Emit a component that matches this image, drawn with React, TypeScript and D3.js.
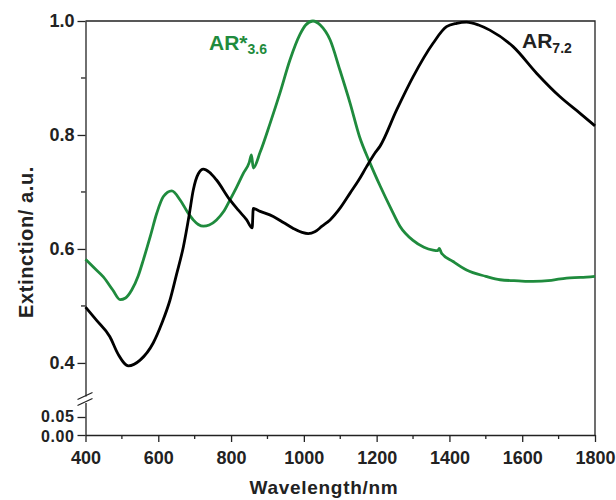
import React, { useEffect, useRef } from "react";
import * as d3 from "d3";

// AR7.2 (black)
const ar72Wavelength = [400, 430, 467, 490, 518, 550, 586, 610, 632, 650, 669, 685, 696, 710, 724, 740, 760, 797, 820, 843, 858, 861, 880, 916, 945, 971, 995, 1012, 1030, 1050, 1072, 1100, 1127, 1150, 1172, 1195, 1209, 1255, 1300, 1355, 1392, 1420, 1447, 1480, 1511, 1575, 1640, 1704, 1759, 1800];
const ar72Extinction = [0.498, 0.475, 0.446, 0.415, 0.395, 0.405, 0.435, 0.47, 0.51, 0.555, 0.604, 0.66, 0.703, 0.732, 0.74, 0.735, 0.721, 0.686, 0.668, 0.651, 0.637, 0.671, 0.666, 0.657, 0.646, 0.636, 0.629, 0.627, 0.63, 0.64, 0.651, 0.672, 0.698, 0.72, 0.744, 0.768, 0.78, 0.844, 0.902, 0.961, 0.99, 0.996, 0.998, 0.993, 0.984, 0.955, 0.908, 0.867, 0.838, 0.816];

// AR*3.6 (green)
const ar36Wavelength = [400, 425, 449, 475, 495, 510, 527, 545, 559, 578, 596, 614, 637, 660, 680, 696, 710, 724, 740, 760, 780, 797, 815, 834, 850, 856, 861, 880, 907, 934, 962, 989, 1005, 1025, 1045, 1072, 1099, 1127, 1153, 1181, 1210, 1240, 1264, 1300, 1330, 1355, 1368, 1372, 1378, 1410, 1447, 1500, 1539, 1590, 1630, 1680, 1722, 1760, 1800];
const ar36Extinction = [0.582, 0.566, 0.551, 0.528, 0.511, 0.514, 0.528, 0.553, 0.581, 0.622, 0.663, 0.692, 0.702, 0.686, 0.665, 0.651, 0.643, 0.64, 0.642, 0.651, 0.666, 0.686, 0.708, 0.733, 0.752, 0.765, 0.742, 0.77, 0.82, 0.873, 0.932, 0.976, 0.993, 1.0, 0.993, 0.967, 0.914, 0.856, 0.797, 0.752, 0.71, 0.67, 0.64, 0.615, 0.603, 0.598, 0.597, 0.601, 0.593, 0.578, 0.563, 0.552, 0.546, 0.544, 0.543, 0.545, 0.549, 0.55, 0.552];

const xTicks = [400, 600, 800, 1000, 1200, 1400, 1600, 1800];
const xMinorTicks = [500, 700, 900, 1100, 1300, 1500, 1700];
const yTopTicks = [0.4, 0.6, 0.8, 1.0];
const yTopMinor = [0.5, 0.7, 0.9];
const yBottomTicks = [0, 0.05];

const GREEN = "#1f8b3d";
const TEXT = "#222";
const FONT = "'Liberation Sans', Arial, sans-serif";

const App = () => {
  const ref = useRef<SVGSVGElement>(null);

  useEffect(() => {
    const svg = d3.select(ref.current);
    svg.selectAll("*").remove();

    const left = 85.5;
    const right = 595;
    const top = 21;
    const bottom = 435;

    const x = d3.scaleLinear().domain([400, 1800]).range([left, right]);
    // broken y axis: upper part and a small lower part
    const yTop = d3.scaleLinear().domain([0.342, 1.0]).range([396, top]);
    const yBot = d3.scaleLinear().domain([0, 0.09]).range([bottom, 402.6]);

    // frame: top and right
    svg.append("path")
      .attr("d", `M${left},${top}H${right}V${bottom}`)
      .attr("fill", "none")
      .attr("stroke", "#222")
      .attr("stroke-width", 1.3);

    // x axis
    const xg = svg.append("g").attr("transform", `translate(0,${bottom})`);
    xg.call(d3.axisBottom(x).tickValues(xTicks).tickSize(7).tickSizeOuter(0).tickFormat(d3.format("d")));
    xg.append("g")
      .selectAll("line")
      .data(xMinorTicks)
      .enter()
      .append("line")
      .attr("x1", (d) => x(d))
      .attr("x2", (d) => x(d))
      .attr("y1", 0)
      .attr("y2", 4)
      .attr("stroke", "#222")
      .attr("stroke-width", 1.3);

    // upper y axis
    const yg = svg.append("g").attr("transform", `translate(${left},0)`);
    yg.call(d3.axisLeft(yTop).tickValues(yTopTicks).tickSize(8).tickSizeOuter(0).tickFormat(d3.format(".1f")));
    yg.append("g")
      .selectAll("line")
      .data(yTopMinor)
      .enter()
      .append("line")
      .attr("x1", 0)
      .attr("x2", -4.5)
      .attr("y1", (d) => yTop(d))
      .attr("y2", (d) => yTop(d))
      .attr("stroke", "#222")
      .attr("stroke-width", 1.3);

    // lower y axis
    const yb = svg.append("g").attr("transform", `translate(${left},0)`);
    yb.call(d3.axisLeft(yBot).tickValues(yBottomTicks).tickSize(8).tickSizeOuter(0).tickFormat(d3.format(".2f")));

    [xg, yg, yb].forEach((g) => {
      g.selectAll(".domain").attr("stroke", "#222").attr("stroke-width", 1.3);
      g.selectAll(".tick line").attr("stroke", "#222").attr("stroke-width", 1.3);
      g.selectAll(".tick text")
        .attr("fill", TEXT)
        .attr("font-family", FONT)
        .attr("font-weight", "bold")
        .attr("font-size", 18);
    });
    xg.selectAll(".tick text").attr("dy", "1.05em");
    yg.selectAll(".tick text").attr("x", -11);
    // the two lower labels sit close together in the original
    yb.selectAll(".tick text")
      .attr("x", -11)
      .attr("font-size", 16)
      .attr("dy", (d) => (d === 0 ? "0.4em" : "0.3em"))
      .attr("letter-spacing", 0.6);

    // break marks
    const brk = svg.append("g").attr("stroke", "#222").attr("stroke-width", 1.3);
    brk.append("line").attr("x1", left - 8).attr("y1", 399.5).attr("x2", left + 7).attr("y2", 392.5);
    brk.append("line").attr("x1", left - 8).attr("y1", 405.5).attr("x2", left + 7).attr("y2", 398.5);

    // curves
    const line = d3.line<[number, number]>()
      .x((d) => x(d[0]))
      .y((d) => yTop(d[1]))
      .curve(d3.curveMonotoneX);

    const ar72 = ar72Wavelength.map((w, i) => [w, ar72Extinction[i]] as [number, number]);
    const ar36 = ar36Wavelength.map((w, i) => [w, ar36Extinction[i]] as [number, number]);

    svg.append("path")
      .attr("d", line(ar36))
      .attr("fill", "none")
      .attr("stroke", GREEN)
      .attr("stroke-width", 2.8)
      .attr("stroke-linejoin", "round");

    svg.append("path")
      .attr("d", line(ar72))
      .attr("fill", "none")
      .attr("stroke", "#000")
      .attr("stroke-width", 2.8)
      .attr("stroke-linejoin", "round");

    // series labels
    const lab36 = svg.append("text")
      .attr("x", 209)
      .attr("y", 50)
      .attr("fill", GREEN)
      .attr("font-family", FONT)
      .attr("font-weight", "bold")
      .attr("font-size", 21);
    lab36.append("tspan").text("AR*");
    lab36.append("tspan").attr("font-size", 14).attr("dy", 4).text("3.6");

    const lab72 = svg.append("text")
      .attr("x", 522)
      .attr("y", 48)
      .attr("fill", TEXT)
      .attr("font-family", FONT)
      .attr("font-weight", "bold")
      .attr("font-size", 21);
    lab72.append("tspan").text("AR");
    lab72.append("tspan").attr("font-size", 14).attr("dy", 5).text("7.2");

    // axis titles
    svg.append("text")
      .attr("x", 324)
      .attr("y", 494)
      .attr("text-anchor", "middle")
      .attr("fill", TEXT)
      .attr("font-family", FONT)
      .attr("font-weight", "bold")
      .attr("font-size", 19)
      .attr("letter-spacing", 0.7)
      .text("Wavelength/nm");

    svg.append("text")
      .attr("transform", "translate(33,242) rotate(-90)")
      .attr("text-anchor", "middle")
      .attr("fill", TEXT)
      .attr("font-family", FONT)
      .attr("font-weight", "bold")
      .attr("font-size", 20)
      .attr("letter-spacing", 0.6)
      .text("Extinction/ a.u.");
  }, []);

  return (
    <div style={{ position: "absolute", left: 0, top: 0, width: 616, height: 500, background: "#fff" }}>
      <svg ref={ref} width={616} height={500} style={{ display: "block" }} />
    </div>
  );
};

export default App;
